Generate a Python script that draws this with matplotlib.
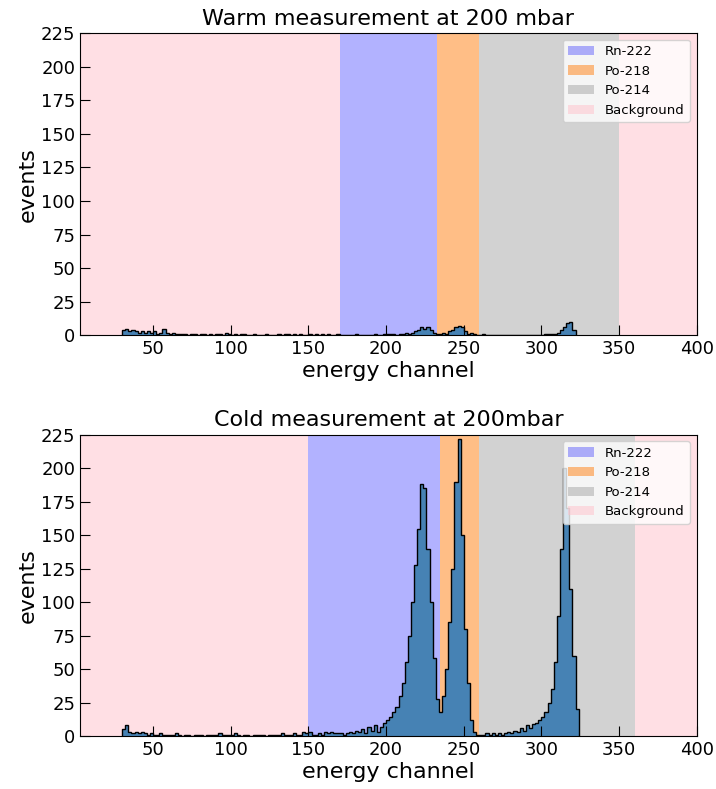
import numpy as np
import matplotlib
matplotlib.use("Agg")
import matplotlib.pyplot as plt

# ---- data ----
bin_width = 2
warm_start = 30
warm_counts = [4, 5, 3, 4, 3, 2, 3, 2, 3, 2, 3, 1, 2, 5, 2, 1, 2, 1, 1, 1,
               1, 0, 1, 1, 0, 1, 1, 0, 1, 0, 1, 1, 0, 2, 1, 0, 1, 0, 1, 1,
               0, 0, 1, 0, 0, 0, 1, 0, 0, 0, 1, 0, 1, 1, 0, 1, 0, 1, 0, 0,
               1, 0, 1, 0, 1, 0, 1, 0, 0, 1, 0, 0, 0, 0, 0, 1, 0, 0, 0, 0,
               0, 1, 0, 0, 1, 1, 1, 1, 0, 1, 1, 2, 1, 2, 3, 4, 6, 5, 6, 4,
               2, 1, 1, 2, 1, 3, 4, 6, 7, 6, 3, 1, 2, 1, 0, 0, 1, 0, 0, 0,
               0, 0, 0, 0, 0, 0, 0, 0, 0, 0, 0, 0, 0, 0, 0, 0, 1, 1, 1, 1,
               2, 4, 6, 9, 10, 4]

cold_start = 30
cold_counts = [5, 8, 3, 2, 3, 2, 3, 2, 1, 2, 1, 1, 2, 1, 1, 1, 1, 2, 1, 0,
               1, 1, 0, 1, 1, 1, 0, 1, 1, 1, 1, 2, 1, 1, 1, 1, 2, 1, 0, 1,
               1, 0, 1, 1, 1, 1, 0, 1, 1, 1, 1, 2, 1, 1, 1, 2, 1, 1, 3, 2,
               3, 1, 1, 2, 1, 3, 2, 3, 2, 2, 2, 1, 2, 3, 2, 4, 3, 5, 2, 7,
               4, 8, 3, 7, 10, 12, 14, 18, 22, 30, 40, 55, 75, 100, 128, 155, 188, 185, 140, 100,
               58, 28, 18, 30, 50, 85, 125, 190, 222, 150, 80, 40, 12, 3, 1, 1, 1, 2, 1, 2,
               1, 2, 1, 2, 3, 2, 4, 3, 6, 4, 8, 6, 9, 10, 12, 14, 18, 25, 35, 55,
               90, 140, 200, 170, 110, 60, 20]

warm_regions = {"Rn-222": (170, 233), "Po-218": (233, 260), "Po-214": (260, 350)}
cold_regions = {"Rn-222": (150, 235), "Po-218": (235, 260), "Po-214": (260, 360)}
region_colors = {"Rn-222": ("blue", 0.3), "Po-218": ("tab:orange", 0.5),
                 "Po-214": ("grey", 0.35), "Background": ("pink", 0.5)}

xmin, xmax = 3, 400
titles = ["Warm measurement at 200 mbar", "Cold measurement at 200mbar"]

fig = plt.figure(figsize=(7.16, 7.89), dpi=100)
ax1 = fig.add_axes([0.112, 0.575, 0.861, 0.383])
ax2 = fig.add_axes([0.112, 0.067, 0.861, 0.382])

for ax, counts, start, regions, title in [
        (ax1, warm_counts, warm_start, warm_regions, titles[0]),
        (ax2, cold_counts, cold_start, cold_regions, titles[1])]:
    lo = min(v[0] for v in regions.values())
    hi = max(v[1] for v in regions.values())
    for name, (a, b) in regions.items():
        c, al = region_colors[name]
        ax.axvspan(a, b, color=c, alpha=al, lw=0, label=name)
    c, al = region_colors["Background"]
    ax.axvspan(0, lo, color=c, alpha=al, lw=0, label="Background")
    ax.axvspan(hi, 420, color=c, alpha=al, lw=0)
    counts = np.array(counts)
    edges = start + bin_width * np.arange(len(counts) + 1)
    ax.stairs(counts, edges, fill=True, color="steelblue")
    ax.stairs(counts, edges, color="black", lw=1.0)
    ax.set_xlim(xmin, xmax)
    ax.set_ylim(0, 225)
    ax.set_xticks([50, 100, 150, 200, 250, 300, 350, 400])
    ax.set_yticks(np.arange(0, 226, 25))
    ax.tick_params(direction="in", length=7, labelsize=13)
    ax.set_xlabel("energy channel", fontsize=16, labelpad=2)
    ax.set_ylabel("events", fontsize=16, labelpad=2)
    ax.set_title(title, fontsize=16)
    ax.legend(loc="upper right", fontsize=9.5, framealpha=0.8)

fig.savefig("out.png", dpi=100)
